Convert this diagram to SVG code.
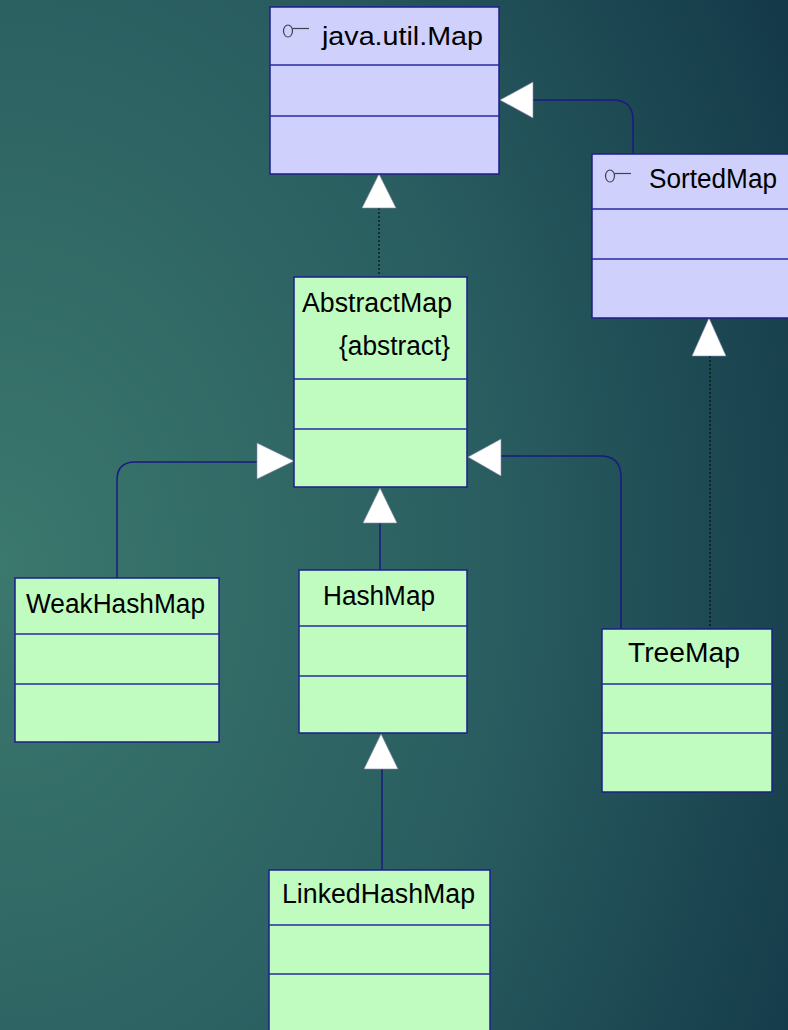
<svg xmlns="http://www.w3.org/2000/svg" width="788" height="1030" viewBox="0 0 788 1030">
<defs>
<radialGradient id="bg" cx="0" cy="0.55" r="1.15" gradientUnits="objectBoundingBox">
<stop offset="0" stop-color="#3b786d"/>
<stop offset="0.55" stop-color="#295d60"/>
<stop offset="1" stop-color="#133848"/>
</radialGradient>
<style>
.iface{fill:#d0d0fc;stroke:#1e1e8a;stroke-width:1.5}
.cls{fill:#c0fcc0;stroke:#1e1e8a;stroke-width:1.5}
.div{stroke:#2a2aa0;stroke-width:1.3}
.t{font-family:"Liberation Sans",Arial,sans-serif;font-size:27px;fill:#000}
.ico{fill:none;stroke:#404050;stroke-width:1.2}
.ln{fill:none;stroke:#1a1a80;stroke-width:1.5}
.dot{fill:none;stroke:#000;stroke-width:1;stroke-dasharray:2,2}
.hd{fill:#fff;stroke:#8888aa;stroke-width:0.6}
</style>
</defs>
<rect x="0" y="0" width="788" height="1030" fill="url(#bg)"/>

<g id="connectors">
<path class="ln" d="M533,100 H613 Q633,100 633,120 V154"/>
<polygon class="hd" points="500,100 533,82 533,118"/>
<line class="dot" x1="379" y1="208" x2="379" y2="277"/>
<polygon class="hd" points="379,174 362,208 396,208"/>
<line class="dot" x1="710" y1="356" x2="710" y2="629"/>
<polygon class="hd" points="709,318 692,356 726,356"/>
<path class="ln" d="M257,462 H135 Q117,462 117,480 V578"/>
<polygon class="hd" points="294,461 257,443 257,479"/>
<path class="ln" d="M501,456 H600 Q621,456 621,477 V629"/>
<polygon class="hd" points="468,457 501,439 501,476"/>
<line class="ln" x1="380" y1="523" x2="380" y2="570"/>
<polygon class="hd" points="380,488 363,523 397,523"/>
<line class="ln" x1="382" y1="769" x2="382" y2="870"/>
<polygon class="hd" points="381,734 364,769 398,769"/>
</g>

<g id="map">
<rect class="iface" x="270" y="7" width="229" height="167"/>
<line class="div" x1="270" y1="65" x2="499" y2="65"/>
<line class="div" x1="270" y1="116" x2="499" y2="116"/>
<ellipse class="ico" cx="288" cy="31" rx="4.5" ry="6"/>
<line class="ico" x1="292.5" y1="28.5" x2="309" y2="28.5"/>
<text class="t" x="322" y="45" style="font-size:25px" textLength="161" lengthAdjust="spacingAndGlyphs">java.util.Map</text>
</g>

<g id="sortedmap">
<rect class="iface" x="592" y="154" width="200" height="164"/>
<line class="div" x1="592" y1="209" x2="792" y2="209"/>
<line class="div" x1="592" y1="259" x2="792" y2="259"/>
<ellipse class="ico" cx="610" cy="176" rx="4.5" ry="6"/>
<line class="ico" x1="614.5" y1="173.5" x2="631" y2="173.5"/>
<text class="t" x="649" y="188" textLength="128" lengthAdjust="spacingAndGlyphs">SortedMap</text>
</g>

<g id="abstractmap">
<rect class="cls" x="294" y="277" width="173" height="210"/>
<line class="div" x1="294" y1="379" x2="467" y2="379"/>
<line class="div" x1="294" y1="429" x2="467" y2="429"/>
<text class="t" x="302" y="312" textLength="150" lengthAdjust="spacingAndGlyphs">AbstractMap</text>
<text class="t" x="339" y="355" textLength="111" lengthAdjust="spacingAndGlyphs">{abstract}</text>
</g>

<g id="weakhashmap">
<rect class="cls" x="15" y="578" width="204" height="164"/>
<line class="div" x1="15" y1="634" x2="219" y2="634"/>
<line class="div" x1="15" y1="684" x2="219" y2="684"/>
<text class="t" x="26" y="613" textLength="179" lengthAdjust="spacingAndGlyphs">WeakHashMap</text>
</g>

<g id="hashmap">
<rect class="cls" x="299" y="570" width="168" height="163"/>
<line class="div" x1="299" y1="626" x2="467" y2="626"/>
<line class="div" x1="299" y1="676" x2="467" y2="676"/>
<text class="t" x="323" y="605" textLength="112" lengthAdjust="spacingAndGlyphs">HashMap</text>
</g>

<g id="treemap">
<rect class="cls" x="602" y="629" width="170" height="163"/>
<line class="div" x1="602" y1="684" x2="772" y2="684"/>
<line class="div" x1="602" y1="733" x2="772" y2="733"/>
<text class="t" x="628" y="662" textLength="112" lengthAdjust="spacingAndGlyphs">TreeMap</text>
</g>

<g id="linkedhashmap">
<rect class="cls" x="269" y="870" width="221" height="170"/>
<line class="div" x1="269" y1="925" x2="490" y2="925"/>
<line class="div" x1="269" y1="974" x2="490" y2="974"/>
<text class="t" x="282" y="903" textLength="193" lengthAdjust="spacingAndGlyphs">LinkedHashMap</text>
</g>
</svg>
